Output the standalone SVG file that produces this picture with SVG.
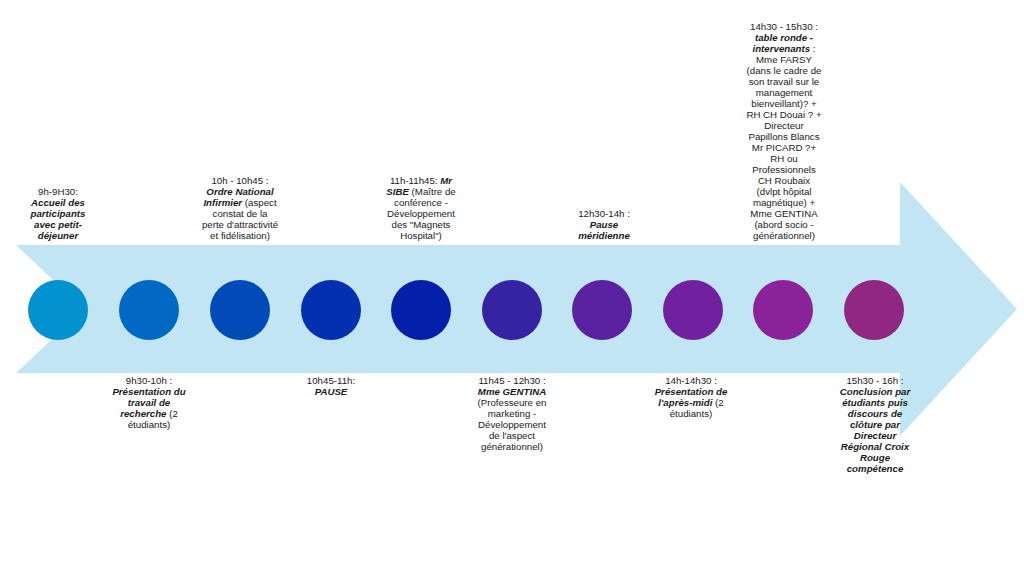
<svg xmlns="http://www.w3.org/2000/svg" width="1024" height="587" viewBox="0 0 1024 587">
<style>
text{font-family:"Liberation Sans",Arial,sans-serif;font-size:9.7px;fill:#1a1a1a;text-anchor:middle}
.b{font-weight:bold;font-style:italic}
</style>
<rect width="1024" height="587" fill="#ffffff"/>
<g id="arrow">
<polygon points="16,245 900,245 900,182 1017,309 900,436 900,373 16,373 84,309" fill="#c1e5f3"/>
</g>
<g id="connectors"></g>
<g id="n1"><circle cx="58" cy="310" r="30" fill="#0292cf"/>
<text x="58"><tspan x="58" y="195">9h-9H30:</tspan><tspan x="58" y="206" class="b">Accueil des</tspan><tspan x="58" y="217" class="b">participants</tspan><tspan x="58" y="228" class="b">avec petit-</tspan><tspan x="58" y="239" class="b">déjeuner</tspan></text></g>
<g id="n2"><circle cx="149" cy="310" r="30" fill="#0168c4"/>
<text><tspan x="149" y="384">9h30-10h :</tspan><tspan x="149" y="395" class="b">Présentation du</tspan><tspan x="149" y="406" class="b">travail de</tspan><tspan x="149" y="417"><tspan class="b">recherche</tspan> (2</tspan><tspan x="149" y="428">étudiants)</tspan></text></g>
<g id="n3"><circle cx="240" cy="310" r="30" fill="#034ab9"/>
<text><tspan x="240" y="184">10h - 10h45 :</tspan><tspan x="240" y="195" class="b">Ordre National</tspan><tspan x="240" y="206"><tspan class="b">Infirmier</tspan> (aspect</tspan><tspan x="240" y="217">constat de la</tspan><tspan x="240" y="228">perte d'attractivité</tspan><tspan x="240" y="239">et fidélisation)</tspan></text></g>
<g id="n4"><circle cx="331" cy="310" r="30" fill="#0330b0"/>
<text><tspan x="331" y="384">10h45-11h:</tspan><tspan x="331" y="395" class="b">PAUSE</tspan></text></g>
<g id="n5"><circle cx="421" cy="310" r="30" fill="#0520a8"/>
<text><tspan x="421" y="184">11h-11h45: <tspan class="b">Mr</tspan></tspan><tspan x="421" y="195"><tspan class="b">SIBE</tspan> (Maître de</tspan><tspan x="421" y="206">conférence -</tspan><tspan x="421" y="217">Développement</tspan><tspan x="421" y="228">des "Magnets</tspan><tspan x="421" y="239">Hospital")</tspan></text></g>
<g id="n6"><circle cx="512" cy="310" r="30" fill="#3523a3"/>
<text><tspan x="512" y="384">11h45 - 12h30 :</tspan><tspan x="512" y="395" class="b">Mme GENTINA</tspan><tspan x="512" y="406">(Professeure en</tspan><tspan x="512" y="417">marketing -</tspan><tspan x="512" y="428">Développement</tspan><tspan x="512" y="439">de l'aspect</tspan><tspan x="512" y="450">générationnel)</tspan></text></g>
<g id="n7"><circle cx="602" cy="310" r="30" fill="#5a22a1"/>
<text><tspan x="604" y="217">12h30-14h :</tspan><tspan x="604" y="228" class="b">Pause</tspan><tspan x="604" y="239" class="b">méridienne</tspan></text></g>
<g id="n8"><circle cx="693" cy="310" r="30" fill="#7121a0"/>
<text><tspan x="691" y="384">14h-14h30 :</tspan><tspan x="691" y="395" class="b">Présentation de</tspan><tspan x="691" y="406"><tspan class="b">l'après-midi</tspan> (2</tspan><tspan x="691" y="417">étudiants)</tspan></text></g>
<g id="n9"><circle cx="783" cy="310" r="30" fill="#8a2299"/>
<text><tspan x="784" y="30">14h30 - 15h30 :</tspan><tspan x="784" y="41" class="b">table ronde -</tspan><tspan x="784" y="52"><tspan class="b">intervenants</tspan> :</tspan><tspan x="784" y="63">Mme FARSY</tspan><tspan x="784" y="74">(dans le cadre de</tspan><tspan x="784" y="85">son travail sur le</tspan><tspan x="784" y="96">management</tspan><tspan x="784" y="107">bienveillant)? +</tspan><tspan x="784" y="118">RH CH Douai ? +</tspan><tspan x="784" y="129">Directeur</tspan><tspan x="784" y="140">Papillons Blancs</tspan><tspan x="784" y="151">Mr PICARD ?+</tspan><tspan x="784" y="162">RH ou</tspan><tspan x="784" y="173">Professionnels</tspan><tspan x="784" y="184">CH Roubaix</tspan><tspan x="784" y="195">(dvlpt hôpital</tspan><tspan x="784" y="206">magnétique) +</tspan><tspan x="784" y="217">Mme GENTINA</tspan><tspan x="784" y="228">(abord socio -</tspan><tspan x="784" y="239">générationnel)</tspan></text></g>
<g id="n10"><circle cx="874" cy="310" r="30" fill="#8f2783"/>
<text><tspan x="875" y="384">15h30 - 16h :</tspan><tspan x="875" y="395" class="b">Conclusion par</tspan><tspan x="875" y="406" class="b">étudiants puis</tspan><tspan x="875" y="417" class="b">discours de</tspan><tspan x="875" y="428" class="b">clôture par</tspan><tspan x="875" y="439" class="b">Directeur</tspan><tspan x="875" y="450" class="b">Régional Croix</tspan><tspan x="875" y="461" class="b">Rouge</tspan><tspan x="875" y="472" class="b">compétence</tspan></text></g>
</svg>
